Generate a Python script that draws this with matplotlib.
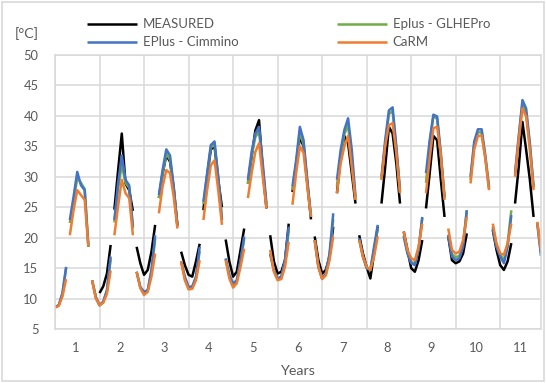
import numpy as np
import matplotlib
matplotlib.use("Agg")
import matplotlib.pyplot as plt
from matplotlib.patches import Rectangle

plt.rcParams['font.family'] = ['Lato', 'DejaVu Sans']

# monthly values, one row per year (Jan..Dec), None = no data
measured = [
    None, None, None, None, None, None, None, None, None, None, None, None,
    10.9, 12.0, 14.1, 18.8, 24.6, 31.0, 37.1, 28.9, 27.8, 24.4, 18.5, 15.8,
    13.9, 14.7, 17.7, 22.1, 26.5, 30.5, 33.5, 32.5, 28.0, 22.0, 17.7, 15.5,
    13.9, 13.6, 16.1, 19.0, 24.5, 30.0, 34.5, 35.0, 29.5, 25.0, 19.7, 16.1,
    13.6, 14.4, 18.0, 21.5, 28.9, 33.3, 37.6, 39.3, 31.1, 24.8, 20.4, 16.1,
    14.1, 14.4, 16.3, 22.3, 27.5, 32.0, 36.5, 35.0, 29.0, 23.0, 20.2, 16.3,
    14.1, 14.7, 16.9, 21.8, 27.3, 33.3, 36.7, 35.5, 30.6, 25.6, 20.4, 17.4,
    15.2, 13.3, 17.4, 21.8, 25.6, 31.6, 38.2, 37.1, 32.2, 25.6, 21.0, 18.0,
    15.0, 14.4, 16.3, 19.6, 24.8, 30.6, 36.7, 36.0, 29.5, 23.4, 20.2, 16.3,
    15.8, 16.1, 17.4, 20.7, None, None, None, None, None, None, 21.3, 18.0,
    15.5, 14.7, 16.1, 19.1, 25.6, 31.6, 39.0, 34.4, 29.5, 23.4, None, None,
]
glhepro = [
    8.6, 8.9, 10.7, 15.0, 22.4, 26.0, 29.8, 29.0, 28.0, 18.5, 13.0, 10.2,
    8.9, 9.4, 11.2, 16.5, 22.5, 28.0, 32.0, 29.0, 28.2, 21.5, 14.4, 11.8,
    11.0, 11.3, 14.4, 19.8, 26.5, 30.5, 33.8, 32.8, 28.0, 22.0, 16.1, 13.3,
    11.8, 11.8, 13.4, 17.8, 25.5, 30.3, 34.8, 35.3, 29.8, 23.0, 16.5, 13.7,
    12.3, 12.8, 16.0, 19.8, 28.8, 33.5, 36.5, 37.5, 31.5, 25.0, 17.3, 14.6,
    13.2, 13.5, 16.0, 21.2, 27.8, 32.2, 37.3, 35.3, 29.0, 23.4, 19.6, 15.2,
    13.3, 14.0, 17.0, 23.0, 28.5, 33.5, 37.0, 38.5, 33.0, 26.3, 19.8, 16.9,
    15.0, 14.7, 18.0, 21.6, 29.5, 35.5, 40.3, 40.8, 34.5, 27.5, 20.4, 17.6,
    16.0, 15.8, 18.2, 23.2, 29.0, 35.5, 40.0, 39.5, 33.5, 26.5, 20.5, 17.3,
    16.8, 17.0, 19.0, 24.5, 29.5, 35.3, 37.3, 37.3, 33.0, 28.0, 21.8, 18.7,
    17.2, 16.3, 19.0, 24.5, 30.3, 36.3, 42.0, 40.5, 35.0, 28.2, 22.5, 17.5,
]
cimmino = [
    8.6, 8.9, 10.9, 15.2, 22.9, 26.7, 30.8, 28.6, 27.8, 18.5, 13.0, 10.3,
    8.9, 9.5, 11.4, 16.9, 22.9, 28.9, 33.5, 29.5, 28.6, 21.8, 14.4, 11.9,
    11.1, 11.4, 14.7, 20.4, 27.0, 31.1, 34.5, 33.5, 28.4, 21.8, 16.1, 13.6,
    11.9, 12.0, 13.6, 18.5, 25.9, 30.6, 35.2, 35.8, 30.0, 22.9, 16.6, 13.9,
    12.5, 13.0, 16.3, 20.2, 29.5, 34.1, 37.1, 38.2, 32.2, 25.6, 17.4, 14.7,
    13.3, 13.6, 16.3, 21.8, 28.4, 32.7, 38.2, 36.0, 29.5, 23.4, 19.6, 15.2,
    13.3, 14.1, 17.4, 24.0, 29.5, 34.4, 37.7, 39.6, 34.4, 26.7, 19.9, 16.9,
    15.0, 14.7, 18.5, 22.1, 30.0, 36.0, 40.9, 41.4, 35.0, 27.8, 20.2, 17.4,
    15.8, 15.5, 18.0, 23.4, 30.6, 36.0, 40.2, 39.9, 33.9, 26.7, 20.4, 16.9,
    16.3, 16.6, 18.5, 24.5, 30.0, 35.8, 37.8, 37.8, 33.5, 28.3, 21.5, 18.5,
    16.9, 15.8, 18.5, 23.7, 30.6, 36.7, 42.6, 41.2, 35.5, 28.4, 22.3, 17.0,
]
carm = [
    8.5, 8.8, 10.3, 13.2, 20.4, 24.5, 27.8, 27.0, 26.2, 18.5, 13.0, 10.0,
    8.9, 9.3, 10.8, 14.6, 20.4, 25.1, 29.5, 27.3, 26.5, 20.4, 14.4, 11.7,
    10.6, 11.1, 13.6, 17.4, 24.0, 28.4, 31.1, 30.6, 26.7, 21.5, 16.1, 13.0,
    11.5, 11.6, 13.0, 16.3, 22.9, 27.8, 31.9, 32.7, 27.8, 22.1, 16.3, 13.3,
    11.8, 12.5, 15.2, 18.2, 26.5, 30.6, 34.1, 35.5, 30.0, 24.8, 18.0, 14.4,
    13.0, 13.2, 15.2, 19.3, 25.4, 30.6, 35.0, 33.9, 28.4, 23.4, 19.6, 15.2,
    13.2, 13.8, 16.3, 20.2, 27.3, 32.2, 35.0, 36.7, 31.6, 26.2, 19.6, 16.9,
    15.2, 14.7, 16.9, 20.2, 29.5, 35.0, 38.5, 38.8, 33.9, 27.3, 21.0, 18.0,
    16.6, 16.3, 18.5, 22.3, 27.3, 33.0, 38.0, 38.2, 33.5, 26.2, 21.5, 18.0,
    17.4, 17.7, 19.6, 23.4, 28.9, 34.5, 36.7, 36.8, 33.0, 27.8, 22.3, 19.1,
    17.4, 17.2, 19.1, 22.3, 30.0, 36.0, 41.2, 39.9, 34.4, 27.8, 22.6, 18.0,
]
years = list(range(1, 12))
summer_months = [4, 5, 6, 7, 8, 9]  # May..Oct, plotted apart from the heating season

series = [
    ('MEASURED', measured, '#000000'),
    ('Eplus - GLHEPro', glhepro, '#70AD47'),
    ('EPlus - Cimmino', cimmino, '#4472C4'),
    ('CaRM', carm, '#ED7D31'),
]

text_col = '#595959'
grid_col = '#D9D9D9'

fig = plt.figure(figsize=(5.46, 3.83), dpi=100)
ax = fig.add_axes([55 / 546, 1 - 329 / 383, 486 / 546, 274 / 383])

n = len(cimmino)
x = np.arange(n)
summer = np.isin(x % 12, summer_months)

handles = {}
for name, vals, col in series:
    y = np.array([np.nan if v is None else v for v in vals], dtype=float)
    ax.plot(x, np.where(summer, y, np.nan), color=col, lw=1.8, solid_capstyle='butt')
    h, = ax.plot(x, np.where(~summer, y, np.nan), color=col, lw=1.8, solid_capstyle='butt')
    handles[name] = h

ax.set_xlim(0, n - 1)
ax.set_ylim(5, 50)
ax.set_yticks(np.arange(5, 51, 5))
ax.set_xticks(np.arange(0, n, 12))
ax.set_xticks([12 * (yr - 1) + 5.5 for yr in years], minor=True)
ax.set_xticklabels([])
ax.set_xticklabels([str(yr) for yr in years], minor=True)
ax.grid(True, which='major', color=grid_col, lw=1.1)
ax.set_axisbelow(True)
ax.tick_params(which='both', length=0, colors=text_col, labelsize=9.3)
ax.tick_params(axis='y', pad=12)
ax.tick_params(axis='x', which='minor', pad=9)
for s in ax.spines.values():
    s.set_color(grid_col)
    s.set_linewidth(1.1)

ax.set_xlabel('Years', color=text_col, fontsize=10.3, labelpad=8)
fig.text(27 / 546, 1 - 34 / 383, '[°C]', color=text_col, fontsize=10.3,
         ha='center', va='center')

order = ['MEASURED', 'EPlus - Cimmino', 'Eplus - GLHEPro', 'CaRM']
fig.legend([handles[k] for k in order], order, ncol=2, frameon=False,
           loc='upper left', bbox_to_anchor=(82 / 546, 1 - 13 / 383),
           fontsize=9.5, labelcolor=text_col, handlelength=3.8,
           handletextpad=0.4, columnspacing=7.5, labelspacing=0.45,
           borderaxespad=0)

fig.add_artist(Rectangle((2 / 546, 2 / 383), 542 / 546, 379 / 383,
                         transform=fig.transFigure, fill=False,
                         edgecolor=grid_col, lw=1.2))

fig.savefig('out.png', dpi=100)
